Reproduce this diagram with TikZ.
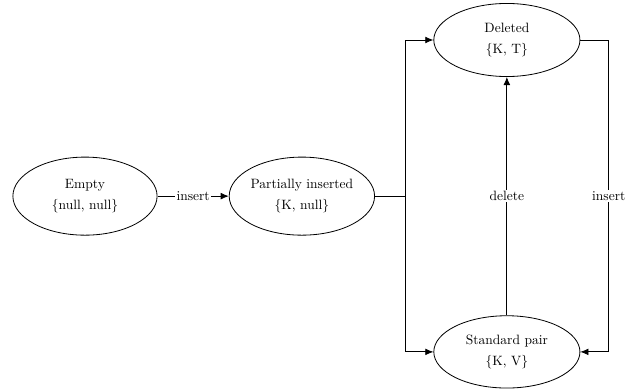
\documentclass[tikz,border=0pt]{standalone}
\usepackage{amsmath, amssymb}
\usepackage{tikz}
\usetikzlibrary{shapes.geometric, arrows.meta}

\tikzset{
  stnode/.style={draw, ellipse, align=center, inner sep=0pt},
  edgelabel/.style={fill=white, inner sep=1pt},
  trans/.style={semithick, -{Latex[length=6pt, width=5pt]}}
}

\begin{document}
\begin{tikzpicture}[semithick]
\useasboundingbox (0,0) rectangle (16.72,-10.19);
%% states
\node[stnode, minimum width=3.75cm, minimum height=2.03cm] (empty) at (2.21,-5.10) {Empty\\[4pt]\{null, null\}};
\node[stnode, minimum width=3.78cm, minimum height=2.03cm] (partial) at (7.85,-5.10) {Partially inserted\\[4pt]\{K, null\}};
\node[stnode, minimum width=3.80cm, minimum height=1.90cm] (deleted) at (13.18,-1.04) {Deleted\\[4pt]\{K, T\}};
\node[stnode, minimum width=3.80cm, minimum height=1.88cm] (stdpair) at (13.18,-9.15) {Standard pair\\[4pt]\{K, V\}};
%% helper points
\coordinate (split) at (10.53,-5.10);
\coordinate (rtop) at (15.83,-1.04);
\coordinate (rbot) at (15.83,-9.15);
%% transitions
\draw[trans] (empty) -- node[edgelabel]{insert} (partial);
\draw (partial.east) -- (split);
\draw[trans] (split) |- (deleted.west);
\draw[trans] (split) |- (stdpair.west);
\draw[trans] (stdpair.north) -- node[edgelabel]{delete} (deleted.south);
\draw[trans] (deleted.east) -- (rtop) -- node[edgelabel]{insert} (rbot) -- (stdpair.east);
\end{tikzpicture}
\end{document}
